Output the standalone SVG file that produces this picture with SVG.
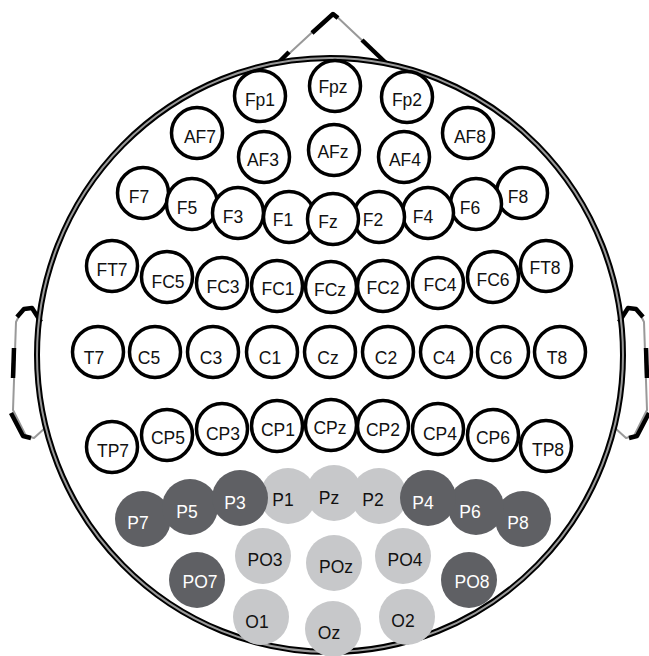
<svg xmlns="http://www.w3.org/2000/svg" width="649" height="656" viewBox="0 0 649 656">
<style>
.g{fill:none;stroke:#999;stroke-width:2;stroke-linejoin:round}
.k{fill:none;stroke:#000;stroke-width:4.5;stroke-linecap:butt;stroke-linejoin:round}
.e{fill:#fff;stroke:#000;stroke-width:3.5}
.d{fill:#5f6064}
.l{fill:#c7c8ca}
text{font-family:"Liberation Sans",Arial,Helvetica,sans-serif;font-size:17.5px;text-anchor:middle}
.tw{fill:#fff}
.tb{fill:#111}
</style>
<rect width="649" height="656" fill="#fff"/>
<g id="head">
<g id="nose">
<path class="g" d="M280,62 L333,13 L385,62"/>
<path class="k" d="M278,63 L289,52"/>
<path class="k" d="M312,33 L333,14 L338,18"/>
<path class="k" d="M362,40 L386,63"/>
</g>
<g id="ear-left">
<path class="g" d="M40,322 L32,308 L22,310 L16,322 L13,410 L26,436 L34,438 L45,428"/>
<path class="k" d="M17,317 L24,309 L32,308 L41,322"/>
<path class="k" d="M14,348 L13,378"/>
<path class="k" d="M11,413 L23,436 L31,438"/>
</g>
<g id="ear-right" transform="matrix(-1,0,0,1,660,0)">
<path class="g" d="M40,322 L32,308 L22,310 L16,322 L13,410 L26,436 L34,438 L45,428"/>
<path class="k" d="M17,317 L24,309 L32,308 L41,322"/>
<path class="k" d="M14,348 L13,378"/>
<path class="k" d="M11,413 L23,436 L31,438"/>
</g>
<ellipse cx="330" cy="355" rx="293" ry="297" fill="none" stroke="#000" stroke-width="6"/>
<ellipse cx="330" cy="355" rx="293" ry="297" fill="none" stroke="#999" stroke-width="2"/>
</g>
<g id="electrodes">
<g id="Fp1"><circle class="e" cx="260" cy="96" r="25.5"/><text class="tb" x="260" y="106">Fp1</text></g>
<g id="Fpz"><circle class="e" cx="335" cy="86" r="25.5"/><text class="tb" x="333" y="93">Fpz</text></g>
<g id="Fp2"><circle class="e" cx="407" cy="97" r="25.5"/><text class="tb" x="407" y="106">Fp2</text></g>
<g id="AF7"><circle class="e" cx="197" cy="133" r="25.5"/><text class="tb" x="200" y="143">AF7</text></g>
<g id="AF3"><circle class="e" cx="264" cy="157" r="25.5"/><text class="tb" x="263" y="166">AF3</text></g>
<g id="AFz"><circle class="e" cx="334" cy="150" r="25.5"/><text class="tb" x="333" y="158">AFz</text></g>
<g id="AF4"><circle class="e" cx="404" cy="157" r="25.5"/><text class="tb" x="405" y="166">AF4</text></g>
<g id="AF8"><circle class="e" cx="468" cy="133" r="25.5"/><text class="tb" x="470" y="143">AF8</text></g>
<g id="F7"><circle class="e" cx="143" cy="193" r="25.5"/><text class="tb" x="139" y="203">F7</text></g>
<g id="F8"><circle class="e" cx="522" cy="193" r="25.5"/><text class="tb" x="518" y="203">F8</text></g>
<g id="F5"><circle class="e" cx="192" cy="204" r="25.5"/><text class="tb" x="187" y="214">F5</text></g>
<g id="F6"><circle class="e" cx="476" cy="204" r="25.5"/><text class="tb" x="470" y="214">F6</text></g>
<g id="F3"><circle class="e" cx="238" cy="213" r="25.5"/><text class="tb" x="233" y="223">F3</text></g>
<g id="F4"><circle class="e" cx="428" cy="213" r="25.5"/><text class="tb" x="423" y="223">F4</text></g>
<g id="F1"><circle class="e" cx="289" cy="217" r="25.5"/><text class="tb" x="283" y="226">F1</text></g>
<g id="F2"><circle class="e" cx="379" cy="217" r="25.5"/><text class="tb" x="373" y="226">F2</text></g>
<g id="Fz"><circle class="e" cx="333" cy="219" r="25.5"/><text class="tb" x="328" y="228">Fz</text></g>
<g id="FT7"><circle class="e" cx="112" cy="266" r="25.5"/><text class="tb" x="112" y="276">FT7</text></g>
<g id="FC5"><circle class="e" cx="167" cy="277" r="25.5"/><text class="tb" x="168" y="288">FC5</text></g>
<g id="FC3"><circle class="e" cx="222" cy="283" r="25.5"/><text class="tb" x="223" y="293">FC3</text></g>
<g id="FC1"><circle class="e" cx="277" cy="286" r="25.5"/><text class="tb" x="278" y="295">FC1</text></g>
<g id="FCz"><circle class="e" cx="331" cy="287" r="25.5"/><text class="tb" x="330" y="296">FCz</text></g>
<g id="FC2"><circle class="e" cx="383" cy="286" r="25.5"/><text class="tb" x="383" y="294">FC2</text></g>
<g id="FC4"><circle class="e" cx="438" cy="283" r="25.5"/><text class="tb" x="440" y="291">FC4</text></g>
<g id="FC6"><circle class="e" cx="493" cy="277" r="25.5"/><text class="tb" x="493" y="286">FC6</text></g>
<g id="FT8"><circle class="e" cx="546" cy="266" r="25.5"/><text class="tb" x="545" y="274">FT8</text></g>
<g id="T7"><circle class="e" cx="98" cy="352" r="25.5"/><text class="tb" x="94" y="364">T7</text></g>
<g id="C5"><circle class="e" cx="155" cy="352" r="25.5"/><text class="tb" x="149" y="364">C5</text></g>
<g id="C3"><circle class="e" cx="213" cy="352" r="25.5"/><text class="tb" x="211" y="364">C3</text></g>
<g id="C1"><circle class="e" cx="272" cy="352" r="25.5"/><text class="tb" x="270" y="364">C1</text></g>
<g id="Cz"><circle class="e" cx="330" cy="352" r="25.5"/><text class="tb" x="328" y="364">Cz</text></g>
<g id="C2"><circle class="e" cx="388" cy="352" r="25.5"/><text class="tb" x="386" y="364">C2</text></g>
<g id="C4"><circle class="e" cx="446" cy="352" r="25.5"/><text class="tb" x="444" y="364">C4</text></g>
<g id="C6"><circle class="e" cx="503" cy="352" r="25.5"/><text class="tb" x="501" y="364">C6</text></g>
<g id="T8"><circle class="e" cx="560" cy="352" r="25.5"/><text class="tb" x="557" y="364">T8</text></g>
<g id="TP7"><circle class="e" cx="112" cy="447" r="25.5"/><text class="tb" x="113" y="457">TP7</text></g>
<g id="CP5"><circle class="e" cx="167" cy="435" r="25.5"/><text class="tb" x="168" y="444">CP5</text></g>
<g id="CP3"><circle class="e" cx="222" cy="429" r="25.5"/><text class="tb" x="223" y="440">CP3</text></g>
<g id="CP1"><circle class="e" cx="277" cy="426" r="25.5"/><text class="tb" x="278" y="436">CP1</text></g>
<g id="CPz"><circle class="e" cx="331" cy="425" r="25.5"/><text class="tb" x="330" y="434">CPz</text></g>
<g id="CP2"><circle class="e" cx="383" cy="426" r="25.5"/><text class="tb" x="383" y="436">CP2</text></g>
<g id="CP4"><circle class="e" cx="438" cy="429" r="25.5"/><text class="tb" x="440" y="440">CP4</text></g>
<g id="CP6"><circle class="e" cx="493" cy="435" r="25.5"/><text class="tb" x="493" y="444">CP6</text></g>
<g id="TP8"><circle class="e" cx="546" cy="446" r="25.5"/><text class="tb" x="548" y="456">TP8</text></g>
<g id="P1"><circle class="l" cx="288" cy="496" r="28"/><text class="tb" x="283" y="506">P1</text></g>
<g id="P2"><circle class="l" cx="379" cy="496" r="28"/><text class="tb" x="373" y="506">P2</text></g>
<g id="Pz"><circle class="l" cx="334" cy="493" r="28"/><text class="tb" x="329" y="504">Pz</text></g>
<g id="P7"><circle class="d" cx="143" cy="519" r="28"/><text class="tw" x="138" y="529">P7</text></g>
<g id="P8"><circle class="d" cx="523" cy="519" r="28"/><text class="tw" x="518" y="529">P8</text></g>
<g id="P5"><circle class="d" cx="190" cy="507" r="28"/><text class="tw" x="187" y="518">P5</text></g>
<g id="P6"><circle class="d" cx="476" cy="507" r="28"/><text class="tw" x="470" y="518">P6</text></g>
<g id="P3"><circle class="d" cx="240" cy="498" r="28"/><text class="tw" x="235" y="509">P3</text></g>
<g id="P4"><circle class="d" cx="428" cy="498" r="28"/><text class="tw" x="423" y="509">P4</text></g>
<g id="PO7"><circle class="d" cx="197" cy="580" r="28"/><text class="tw" x="200" y="588">PO7</text></g>
<g id="PO3"><circle class="l" cx="263" cy="556" r="28"/><text class="tb" x="265" y="566">PO3</text></g>
<g id="POz"><circle class="l" cx="334" cy="563" r="28"/><text class="tb" x="336" y="573">POz</text></g>
<g id="PO4"><circle class="l" cx="403" cy="556" r="28"/><text class="tb" x="405" y="566">PO4</text></g>
<g id="PO8"><circle class="d" cx="469" cy="580" r="28"/><text class="tw" x="472" y="588">PO8</text></g>
<g id="O1"><circle class="l" cx="261" cy="617" r="28"/><text class="tb" x="257" y="628">O1</text></g>
<g id="Oz"><circle class="l" cx="333" cy="629" r="28"/><text class="tb" x="329" y="639">Oz</text></g>
<g id="O2"><circle class="l" cx="407" cy="617" r="28"/><text class="tb" x="403" y="627">O2</text></g>
</g>
</svg>
